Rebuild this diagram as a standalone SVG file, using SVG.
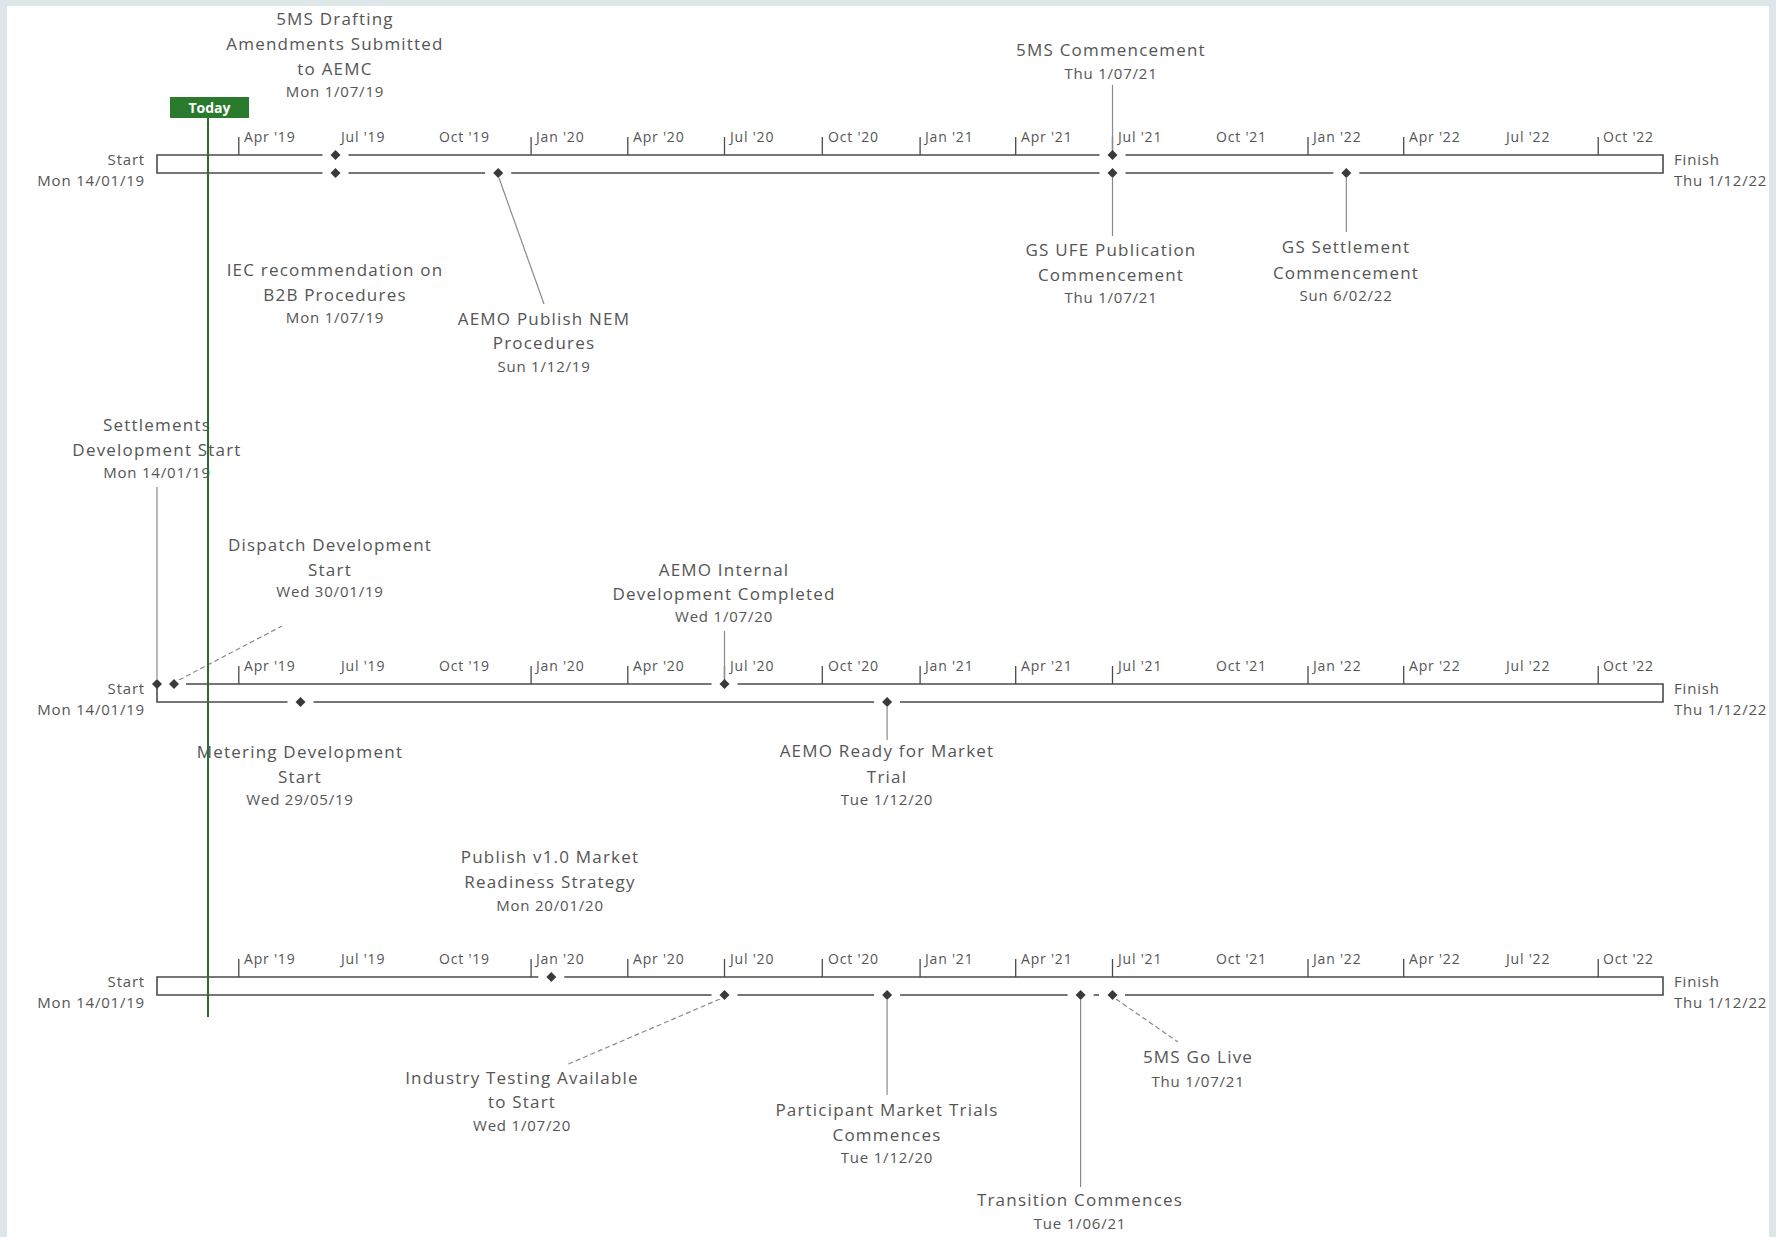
<svg xmlns="http://www.w3.org/2000/svg" width="1776" height="1237" viewBox="0 0 1776 1237">
<style>
.bar{fill:none;stroke:#4a4a4a;stroke-width:1.6}
.tick{stroke:#4a4a4a;stroke-width:1.3}
.tl{font-family:"Open Sans","Liberation Sans",sans-serif;font-size:14px;fill:#555;letter-spacing:0.8px}
.se{font-family:"Open Sans","Liberation Sans",sans-serif;font-size:15px;fill:#555;letter-spacing:0.8px}
.ml{font-family:"Open Sans","Liberation Sans",sans-serif;font-size:17px;fill:#555;text-anchor:middle;letter-spacing:1.2px}
.md{font-family:"Open Sans","Liberation Sans",sans-serif;font-size:15px;fill:#555;text-anchor:middle;letter-spacing:0.8px}
.gap{fill:#fff}
.dia{fill:#3a3a3a}
.con{stroke:#8a8a8a;stroke-width:1.2;fill:none}
.dash{stroke:#8a8a8a;stroke-width:1.2;fill:none;stroke-dasharray:5 3}
</style>
<defs>
<g id="ms"><rect class="gap" x="-13" y="-4" width="26" height="8"/><polygon class="dia" points="0,-5 5,0 0,5 -5,0"/></g>
<g id="ticks">
<line class="tick" x1="238.8" y1="0" x2="238.8" y2="-18"/>
<line class="tick" x1="531.1" y1="0" x2="531.1" y2="-18"/>
<line class="tick" x1="627.8" y1="0" x2="627.8" y2="-18"/>
<line class="tick" x1="724.5" y1="0" x2="724.5" y2="-18"/>
<line class="tick" x1="822.3" y1="0" x2="822.3" y2="-18"/>
<line class="tick" x1="920.1" y1="0" x2="920.1" y2="-18"/>
<line class="tick" x1="1015.7" y1="0" x2="1015.7" y2="-18"/>
<line class="tick" x1="1112.5" y1="0" x2="1112.5" y2="-18"/>
<line class="tick" x1="1308" y1="0" x2="1308" y2="-18"/>
<line class="tick" x1="1403.7" y1="0" x2="1403.7" y2="-18"/>
<line class="tick" x1="1598.2" y1="0" x2="1598.2" y2="-18"/>
<text class="tl" x="244" y="-13">Apr '19</text>
<text class="tl" x="341" y="-13">Jul '19</text>
<text class="tl" x="439" y="-13">Oct '19</text>
<text class="tl" x="536" y="-13">Jan '20</text>
<text class="tl" x="633" y="-13">Apr '20</text>
<text class="tl" x="730" y="-13">Jul '20</text>
<text class="tl" x="828" y="-13">Oct '20</text>
<text class="tl" x="925" y="-13">Jan '21</text>
<text class="tl" x="1021" y="-13">Apr '21</text>
<text class="tl" x="1118" y="-13">Jul '21</text>
<text class="tl" x="1216" y="-13">Oct '21</text>
<text class="tl" x="1313" y="-13">Jan '22</text>
<text class="tl" x="1409" y="-13">Apr '22</text>
<text class="tl" x="1506" y="-13">Jul '22</text>
<text class="tl" x="1603" y="-13">Oct '22</text>
<text class="se" x="145" y="10" text-anchor="end">Start</text>
<text class="se" x="145" y="31" text-anchor="end">Mon 14/01/19</text>
<text class="se" x="1674" y="10">Finish</text>
<text class="se" x="1674" y="31">Thu 1/12/22</text>
</g>
</defs>
<rect x="0" y="0" width="1776" height="1237" fill="#dfe6e9"/>
<rect x="7" y="6" width="1762" height="1231" fill="#fff"/>

<g id="timeline1">
<path class="bar" d="M157,155 H1663 V173 H157 Z"/>
<use href="#ticks" y="155"/>
</g>
<g id="timeline2">
<path class="bar" d="M157,684 H1663 V702 H157 Z"/>
<use href="#ticks" y="684"/>
</g>
<g id="timeline3">
<path class="bar" d="M157,977 H1663 V995 H157 Z"/>
<use href="#ticks" y="977"/>
</g>

<g id="connectors">
<line class="con" x1="1112.5" y1="85" x2="1112.5" y2="150"/>
<line class="con" x1="1112.5" y1="178" x2="1112.5" y2="236"/>
<line class="con" x1="1346.3" y1="178" x2="1346.3" y2="232"/>
<line class="con" x1="499" y1="178" x2="544" y2="304"/>
<line class="con" x1="157" y1="487" x2="157" y2="679"/>
<line class="dash" x1="179" y1="680" x2="282" y2="626"/>
<line class="con" x1="724.5" y1="631" x2="724.5" y2="679"/>
<line class="con" x1="887.1" y1="707" x2="887.1" y2="740"/>
<line class="dash" x1="720" y1="999" x2="566" y2="1065"/>
<line class="con" x1="887.1" y1="1000" x2="887.1" y2="1095"/>
<line class="con" x1="1080.6" y1="1000" x2="1080.6" y2="1187"/>
<line class="dash" x1="1116" y1="999" x2="1178" y2="1042"/>
</g>

<g id="m-5ms-drafting">
<use href="#ms" x="335.5" y="155"/>
<text class="ml" x="335" y="25">5MS Drafting</text>
<text class="ml" x="335" y="50">Amendments Submitted</text>
<text class="ml" x="335" y="75">to AEMC</text>
<text class="md" x="335" y="97">Mon 1/07/19</text>
</g>
<g id="m-5ms-commencement">
<use href="#ms" x="1112.5" y="155"/>
<text class="ml" x="1111" y="56">5MS Commencement</text>
<text class="md" x="1111" y="79">Thu 1/07/21</text>
</g>
<g id="m-iec">
<use href="#ms" x="335.5" y="173"/>
<text class="ml" x="335" y="276">IEC recommendation on</text>
<text class="ml" x="335" y="301">B2B Procedures</text>
<text class="md" x="335" y="323">Mon 1/07/19</text>
</g>
<g id="m-aemo-publish">
<use href="#ms" x="498.2" y="173"/>
<text class="ml" x="544" y="325">AEMO Publish NEM</text>
<text class="ml" x="544" y="349">Procedures</text>
<text class="md" x="544" y="372">Sun 1/12/19</text>
</g>
<g id="m-gs-ufe">
<use href="#ms" x="1112.5" y="173"/>
<text class="ml" x="1111" y="256">GS UFE Publication</text>
<text class="ml" x="1111" y="281">Commencement</text>
<text class="md" x="1111" y="303">Thu 1/07/21</text>
</g>
<g id="m-gs-settlement">
<use href="#ms" x="1346.3" y="173"/>
<text class="ml" x="1346" y="253">GS Settlement</text>
<text class="ml" x="1346" y="279">Commencement</text>
<text class="md" x="1346" y="301">Sun 6/02/22</text>
</g>

<g id="m-settlements">
<rect class="gap" x="150" y="680" width="36" height="8"/>
<polygon class="dia" points="157,679 162,684 157,689 152,684"/>
<text class="ml" x="157" y="431">Settlements</text>
<text class="ml" x="157" y="456">Development Start</text>
<text class="md" x="157" y="478">Mon 14/01/19</text>
</g>
<g id="m-dispatch">
<polygon class="dia" points="174,679 179,684 174,689 169,684"/>
<text class="ml" x="330" y="551">Dispatch Development</text>
<text class="ml" x="330" y="576">Start</text>
<text class="md" x="330" y="597">Wed 30/01/19</text>
</g>
<g id="m-aemo-internal">
<use href="#ms" x="724.5" y="684"/>
<text class="ml" x="724" y="576">AEMO Internal</text>
<text class="ml" x="724" y="600">Development Completed</text>
<text class="md" x="724" y="622">Wed 1/07/20</text>
</g>
<g id="m-metering">
<use href="#ms" x="300.5" y="702"/>
<text class="ml" x="300" y="758">Metering Development</text>
<text class="ml" x="300" y="783">Start</text>
<text class="md" x="300" y="805">Wed 29/05/19</text>
</g>
<g id="m-aemo-ready">
<use href="#ms" x="887.1" y="702"/>
<text class="ml" x="887" y="757">AEMO Ready for Market</text>
<text class="ml" x="887" y="783">Trial</text>
<text class="md" x="887" y="805">Tue 1/12/20</text>
</g>

<g id="m-publish">
<use href="#ms" x="551.3" y="977"/>
<text class="ml" x="550" y="863">Publish v1.0 Market</text>
<text class="ml" x="550" y="888">Readiness Strategy</text>
<text class="md" x="550" y="911">Mon 20/01/20</text>
</g>
<g id="m-industry">
<use href="#ms" x="724.5" y="995"/>
<text class="ml" x="522" y="1084">Industry Testing Available</text>
<text class="ml" x="522" y="1108">to Start</text>
<text class="md" x="522" y="1131">Wed 1/07/20</text>
</g>
<g id="m-participant">
<use href="#ms" x="887.1" y="995"/>
<text class="ml" x="887" y="1116">Participant Market Trials</text>
<text class="ml" x="887" y="1141">Commences</text>
<text class="md" x="887" y="1163">Tue 1/12/20</text>
</g>
<g id="m-transition">
<use href="#ms" x="1080.6" y="995"/>
<text class="ml" x="1080" y="1206">Transition Commences</text>
<text class="md" x="1080" y="1229">Tue 1/06/21</text>
</g>
<g id="m-5ms-golive">
<rect class="gap" x="1099" y="991" width="26" height="8"/>
<polygon class="dia" points="1112.5,990 1117.5,995 1112.5,1000 1107.5,995"/>
<text class="ml" x="1198" y="1063">5MS Go Live</text>
<text class="md" x="1198" y="1087">Thu 1/07/21</text>
</g>

<g id="today">
<line x1="208" y1="118" x2="208" y2="1017" stroke="#2e6b30" stroke-width="2"/>
<rect x="170" y="97" width="79" height="21" fill="#2a7a2e"/>
<text x="209.5" y="112.5" text-anchor="middle" font-family="'Open Sans','Liberation Sans',sans-serif" font-size="14" font-weight="bold" fill="#fff">Today</text>
</g>
</svg>
